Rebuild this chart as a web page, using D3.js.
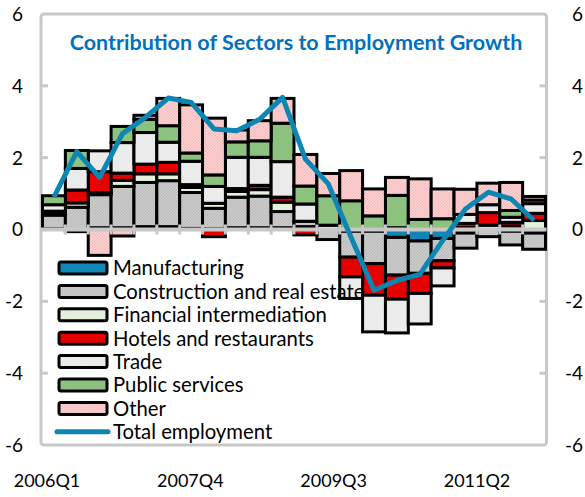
<!DOCTYPE html>
<html>
<head>
<meta charset="utf-8">
<script src="https://cdn.jsdelivr.net/npm/d3@7"></script>
<style>
  body { margin: 0; background: #fff; }
  svg { display: block; }
  text { font-family: Lato, "Open Sans", sans-serif; fill: #000; }
</style>
</head>
<body>
<svg id="chart" width="585" height="497"></svg>
<script>
// Quarterly categories
const quarters = [
  "2006Q1","2006Q2","2006Q3","2006Q4","2007Q1","2007Q2","2007Q3","2007Q4",
  "2008Q1","2008Q2","2008Q3","2008Q4","2009Q1","2009Q2","2009Q3","2009Q4",
  "2010Q1","2010Q2","2010Q3","2010Q4","2011Q1","2011Q2"
];

// Sector contributions (percentage points)
const manufacturing = [0.02,-0.06,0.05,0.05,0.08,0.08,0.03,0.02,0.05,0.05,0.05,0.08,0,-0.05,-0.05,-0.22,-0.32,-0.25,-0.1,0,-0.05,-0.1];
const construction  = [0.38,0.62,0.92,1.15,1.23,1.28,1.0,0.57,0.85,0.88,0.45,0.15,-0.28,-0.72,-0.9,-1.05,-0.9,-0.62,-0.42,-0.2,-0.38,-0.45];
const financial     = [0.05,0.12,0.06,0.17,0.24,0.19,0.14,0.14,0.16,0.18,0.26,0,0.12,0,0,0.05,0,0,0.05,0.12,0.1,0.25];
const hotels        = [0.06,0.36,0.58,0.2,0.27,0.32,0.08,-0.2,0.08,0.12,0.14,-0.15,0,-0.55,-0.88,-0.67,-0.56,-0.2,0.12,0.35,0.1,0.2];
const trade         = [0.18,0.6,0.58,0.85,0.88,0.56,0.65,0.47,0.87,0.78,0.99,0.48,0,-0.6,-1.02,-0.94,-0.85,-0.5,0.25,0.22,0.14,0.27];
const publicServ    = [0.25,0.5,0,0.45,0.37,0.46,0.23,0.32,0.43,0.46,1.07,0.5,0.82,0.8,0.38,0.9,0.28,0.3,0,0,0.19,0.1];
const other         = [0,0,-0.72,-0.18,0.11,0.76,1.34,1.58,0.33,0.56,0.69,0.88,0.62,0.84,0.75,0.5,1.13,0.83,0.7,0.6,0.78,0.1];

// Total employment growth (%)
const totalEmployment = [0.90,2.17,1.45,2.67,3.12,3.66,3.54,2.80,2.75,3.07,3.68,1.96,1.27,-0.22,-1.69,-1.42,-1.25,-0.31,0.57,1.04,0.85,0.25];

const seriesNames = ["Manufacturing","Construction and real estate","Financial intermediation",
  "Hotels and restaurants","Trade","Public services","Other"];
const seriesValues = [manufacturing, construction, financial, hotels, trade, publicServ, other];
const lineName = "Total employment";

const xTickLabels = ["2006Q1","2007Q4","2009Q3","2011Q2"];
const yTickValues = [-6,-4,-2,0,2,4,6];
const title = "Contribution of Sectors to Employment Growth";

// Fills (solid colours or finely hatched patterns)
const fills = [
  {id:"manu",  base:"#0f86b6"},
  {id:"cons",  base:"#cbcbcb", hatch:"#b4b4b4"},
  {id:"fin",   base:"#e8f3e1", hatch:"#d4e7cb"},
  {id:"hot",   base:"#e60000"},
  {id:"trd",   base:"#efefef", hatch:"#e0e0e0"},
  {id:"pub",   base:"#8cc27d"},
  {id:"oth",   base:"#fbd0d0", hatch:"#f2b2b2"}
];
const lineColor = "#0e86b4";
const frameColor = "#c8c8c8";

const svg = d3.select("#chart");
const defs = svg.append("defs");
fills.forEach(f => {
  if (!f.hatch) return;
  const p = defs.append("pattern").attr("id", "pat-" + f.id)
    .attr("patternUnits", "userSpaceOnUse").attr("width", 3).attr("height", 3);
  p.append("rect").attr("width", 3).attr("height", 3).attr("fill", f.base);
  p.append("path").attr("d", "M-1,1 l2,-2 M0,3 l3,-3 M2,4 l2,-2")
    .attr("stroke", f.hatch).attr("stroke-width", 0.8);
});
const fillOf = i => fills[i].hatch ? `url(#pat-${fills[i].id})` : fills[i].base;

// Plot geometry
const plot = {left: 41, right: 546.5, top: 14, bottom: 445};

const rows = quarters.map((q, i) => {
  const r = {q};
  seriesNames.forEach((s, k) => r[s] = seriesValues[k][i]);
  return r;
});
const stacked = d3.stack().keys(seriesNames).offset(d3.stackOffsetDiverging)(rows);

const x = d3.scaleBand().domain(quarters).range([42.5, 545.5]).paddingInner(0).paddingOuter(0);
const y = d3.scaleLinear().domain([-6, 6]).range([plot.bottom, plot.top]);
const xLabel = d3.scaleLinear().domain([0, quarters.length - 1]).range([47, 477]);

// Frame
svg.append("rect")
  .attr("x", plot.left).attr("y", plot.top)
  .attr("width", plot.right - plot.left).attr("height", plot.bottom - plot.top)
  .attr("rx", 3).attr("fill", "none").attr("stroke", frameColor).attr("stroke-width", 3);

// Y tick marks (inward on both sides)
yTickValues.filter(v => v > -6 && v < 6).forEach(v => {
  svg.append("line").attr("x1", plot.left).attr("x2", plot.left + 7)
    .attr("y1", y(v)).attr("y2", y(v)).attr("stroke", frameColor).attr("stroke-width", 3);
  svg.append("line").attr("x1", plot.right - 7).attr("x2", plot.right)
    .attr("y1", y(v)).attr("y2", y(v)).attr("stroke", frameColor).attr("stroke-width", 3);
});

// Y labels on both sides
svg.append("g").selectAll("text").data(yTickValues).join("text")
  .attr("x", 23).attr("y", d => y(d)).attr("dy", "0.36em")
  .attr("text-anchor", "end").attr("font-size", 19).text(d => d);
svg.append("g").selectAll("text").data(yTickValues).join("text")
  .attr("x", 583).attr("y", d => y(d)).attr("dy", "0.36em")
  .attr("text-anchor", "end").attr("font-size", 19).text(d => d);

// Stacked bars
const segs = [];
stacked.forEach((layer, k) => layer.forEach((d, i) => {
  if (Math.abs(seriesValues[k][i]) < 1e-9) return;
  segs.push({k, q: quarters[i], y0: d[0], y1: d[1]});
}));
svg.append("g").selectAll("rect").data(segs).join("rect")
  .attr("x", d => x(d.q)).attr("width", x.bandwidth())
  .attr("y", d => y(Math.max(d.y0, d.y1)))
  .attr("height", d => Math.abs(y(d.y0) - y(d.y1)))
  .attr("fill", d => fillOf(d.k))
  .attr("stroke", "#000").attr("stroke-width", 3);

// Zero axis with category ticks
svg.append("line").attr("x1", plot.left).attr("x2", plot.right)
  .attr("y1", y(0)).attr("y2", y(0)).attr("stroke", frameColor).attr("stroke-width", 4);
svg.append("g").selectAll("line").data(quarters.slice(1)).join("line")
  .attr("x1", d => x(d)).attr("x2", d => x(d))
  .attr("y1", y(0) - 5).attr("y2", y(0) + 5)
  .attr("stroke", frameColor).attr("stroke-width", 3);

// Total employment line
svg.append("path").datum(totalEmployment)
  .attr("fill", "none").attr("stroke", lineColor).attr("stroke-width", 5)
  .attr("stroke-linejoin", "round")
  .attr("d", d3.line().x((d, i) => x(quarters[i]) + x.bandwidth() / 2).y(d => y(d)));

// Title
svg.append("text").attr("x", 296).attr("y", 50).attr("text-anchor", "middle")
  .attr("font-size", 21.5).attr("font-weight", "bold").style("fill", "#0070c0")
  .text(title);

// X labels
svg.append("g").selectAll("text").data(xTickLabels).join("text")
  .attr("x", d => xLabel(quarters.indexOf(d))).attr("y", 487)
  .attr("text-anchor", "middle").attr("font-size", 18).text(d => d);

// Legend
const legend = svg.append("g").attr("transform", "translate(59,268)");
seriesNames.forEach((s, k) => {
  const g = legend.append("g").attr("transform", `translate(0,${k * 23.4})`);
  g.append("rect").attr("x", 0).attr("y", -6).attr("width", 48).attr("height", 12).attr("rx", 2)
    .attr("fill", fillOf(k)).attr("stroke", "#000").attr("stroke-width", 3);
  g.append("text").attr("x", 54).attr("y", 0).attr("dy", "0.36em").attr("font-size", 20.3).text(s);
});
const lg = legend.append("g").attr("transform", `translate(0,${7 * 23.4})`);
lg.append("line").attr("x1", -2).attr("x2", 49).attr("y1", 0).attr("y2", 0)
  .attr("stroke", lineColor).attr("stroke-width", 5).attr("stroke-linecap", "round");
lg.append("text").attr("x", 54).attr("y", 0).attr("dy", "0.36em").attr("font-size", 20.3).text(lineName);
</script>
</body>
</html>
